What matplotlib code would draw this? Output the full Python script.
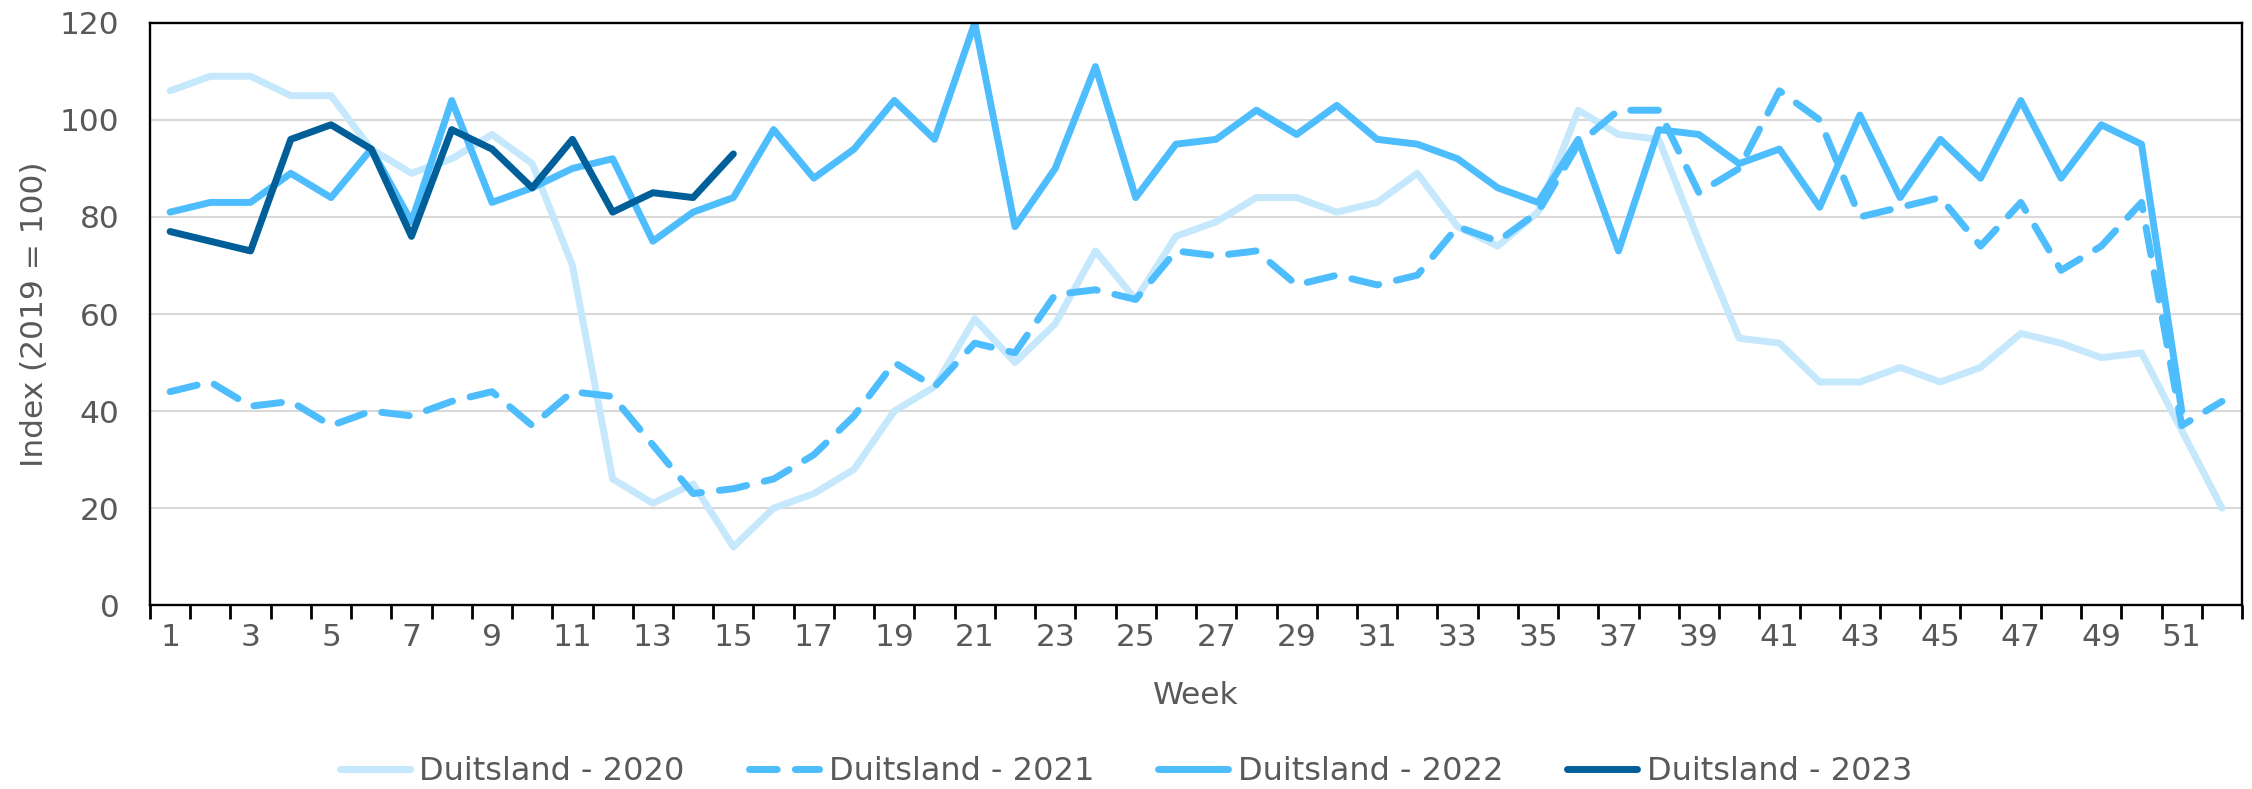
import numpy as np
import matplotlib.pyplot as plt

weeks = list(range(1, 53))

duitsland_2020 = [106, 109, 109, 105, 105, 94, 89, 92, 97, 91, 70, 26, 21, 25, 12,
                  20, 23, 28, 40, 45, 59, 50, 58, 73, 63, 76, 79, 84, 84, 81, 83, 89, 78, 74,
                  81, 102, 97, 96, 75, 55, 54, 46, 46, 49, 46, 49, 56, 54, 51, 52, 36, 20]
duitsland_2021 = [44, 46, 41, 42, 37, 40, 39, 42, 44, 37, 44, 43, 33, 23, 24,
                  26, 31, 39, 50, 45, 54, 52, 64, 65, 63, 73, 72, 73, 66, 68, 66, 68, 78, 75,
                  81, 95, 102, 102, 85, 90, 106, 100, 80, 82, 84, 74, 83, 69, 74, 83, 37, 42]
duitsland_2022 = [81, 83, 83, 89, 84, 94, 79, 104, 83, 86, 90, 92, 75, 81, 84,
                  98, 88, 94, 104, 96, 120, 78, 90, 111, 84, 95, 96, 102, 97, 103, 96, 95, 92, 86,
                  83, 96, 73, 98, 97, 91, 94, 82, 101, 84, 96, 88, 104, 88, 99, 95, 40]
duitsland_2023 = [77, 75, 73, 96, 99, 94, 76, 98, 94, 86, 96, 81, 85, 84, 93]

labels = ['Duitsland - 2020', 'Duitsland - 2021', 'Duitsland - 2022', 'Duitsland - 2023']
colors = ['#c5e8fc', '#4dbdfe', '#4dbdfe', '#005f99']

txt = '#595959'
fs = 22.5
plt.rcParams['font.family'] = 'DejaVu Sans'

fig = plt.figure(figsize=(22.52, 7.89), dpi=100)
ax = fig.add_axes([0.0666, 0.233, 0.929, 0.738])

# gridlijnen
for v in [20, 40, 60, 80, 100]:
    ax.axhline(v, color='#d9d9d9', linewidth=1.5, zorder=0)

lw = 5
ax.plot(weeks, duitsland_2020, color=colors[0], lw=lw, label=labels[0],
        solid_joinstyle='round', solid_capstyle='round')
ax.plot(weeks, duitsland_2021, color=colors[1], lw=lw, label=labels[1],
        dashes=(4.0, 2.6), dash_capstyle='round', dash_joinstyle='round')
ax.plot(weeks[:len(duitsland_2022)], duitsland_2022, color=colors[2], lw=lw, label=labels[2],
        solid_joinstyle='round', solid_capstyle='round')
ax.plot(weeks[:len(duitsland_2023)], duitsland_2023, color=colors[3], lw=lw, label=labels[3],
        solid_joinstyle='round', solid_capstyle='round')

ax.set_xlim(0.5, 52.5)
ax.set_ylim(0, 120)
ax.set_yticks(range(0, 121, 20))
ax.set_xticks(weeks[::2])
ax.set_xticks(np.arange(0.5, 53, 1), minor=True)
ax.tick_params(axis='x', which='major', length=0, pad=13, labelsize=fs, labelcolor=txt)
ax.tick_params(axis='x', which='minor', length=10, width=2, color='black')
ax.tick_params(axis='y', length=0, pad=22, labelsize=fs, labelcolor=txt)

for s in ax.spines.values():
    s.set_color('black')
    s.set_linewidth(1.7)

ax.set_xlabel('Week', fontsize=fs, color=txt, labelpad=21)
ax.set_ylabel('Index (2019 = 100)', fontsize=fs, color=txt, labelpad=8)

fig.legend(loc='lower center', bbox_to_anchor=(0.5, -0.034), ncol=4, frameon=False,
           fontsize=23, labelcolor=txt, handlelength=2.2, handletextpad=0.3,
           columnspacing=2.0)

fig.savefig('out.png', dpi=100)
